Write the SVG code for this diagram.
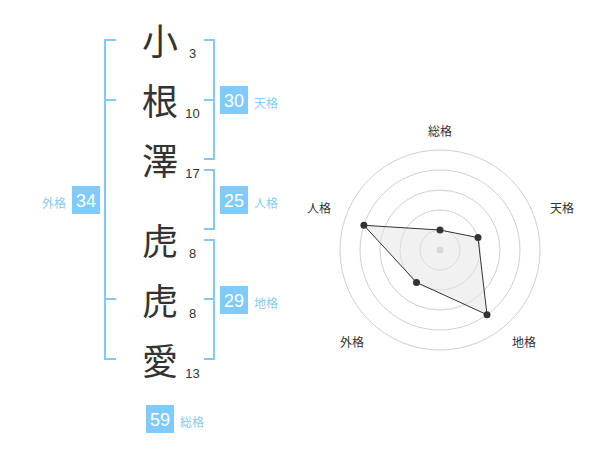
<svg xmlns="http://www.w3.org/2000/svg" width="600" height="470" viewBox="0 0 600 470">
<style>
.kanji{font-family:"Noto Sans CJK JP","Noto Sans CJK SC",sans-serif;font-size:36px;fill:#333;text-anchor:middle}
.num{font-family:"Liberation Sans",Arial,sans-serif;font-size:13px;fill:#333;text-anchor:middle}
.br{fill:none;stroke:#84c9f5;stroke-width:2}
.box{fill:#80cbfb}
.bn{font-family:"Liberation Sans",Arial,sans-serif;font-size:18px;fill:#fff;text-anchor:middle}
.lb{font-family:"Noto Sans CJK JP","Noto Sans CJK SC",sans-serif;font-size:12px;fill:#88cbf3}
.ring{fill:none;stroke:#cfcfcf;stroke-width:1}
.rl{font-family:"Noto Sans CJK JP","Noto Sans CJK SC",sans-serif;font-size:12px;fill:#333;text-anchor:middle}
.pt{fill:#333}
</style>
<g id="name">
<text class="kanji" x="160" y="55">小</text>
<text class="kanji" x="160" y="115">根</text>
<text class="kanji" x="160" y="175">澤</text>
<text class="kanji" x="160" y="255">虎</text>
<text class="kanji" x="160" y="315">虎</text>
<text class="kanji" x="160" y="375">愛</text>
<text class="num" x="192.5" y="58">3</text>
<text class="num" x="192.5" y="118">10</text>
<text class="num" x="192.5" y="178">17</text>
<text class="num" x="192.5" y="258">8</text>
<text class="num" x="192.5" y="318">8</text>
<text class="num" x="192.5" y="378">13</text>
</g>
<g id="brackets">
<path class="br" d="M116,40 H105 V359 H116 M105,100 H116 M105,299 H116"/>
<path class="br" d="M204,40 H214 V159 H204 M204,100 H214"/>
<path class="br" d="M204,170 H214 V229 H204"/>
<path class="br" d="M204,240 H214 V359 H204 M204,299 H214"/>
</g>
<g id="tenkaku">
<rect class="box" x="220" y="86" width="28" height="28"/>
<text class="bn" x="234" y="107">30</text>
<text class="lb" x="254" y="108">天格</text>
</g>
<g id="jinkaku">
<rect class="box" x="220" y="186" width="28" height="28"/>
<text class="bn" x="234" y="207">25</text>
<text class="lb" x="254" y="208">人格</text>
</g>
<g id="chikaku">
<rect class="box" x="220" y="286" width="28" height="28"/>
<text class="bn" x="234" y="307">29</text>
<text class="lb" x="254" y="308">地格</text>
</g>
<g id="gaikaku">
<rect class="box" x="72" y="186" width="28" height="28"/>
<text class="bn" x="86" y="207">34</text>
<text class="lb" x="42" y="208">外格</text>
</g>
<g id="soukaku">
<rect class="box" x="146" y="405" width="28" height="28"/>
<text class="bn" x="160" y="426">59</text>
<text class="lb" x="180" y="427">総格</text>
</g>
<g id="radar">
<circle class="ring" cx="440" cy="250" r="20"/>
<circle class="ring" cx="440" cy="250" r="40"/>
<circle class="ring" cx="440" cy="250" r="60"/>
<circle class="ring" cx="440" cy="250" r="80"/>
<circle class="ring" cx="440" cy="250" r="100"/>
<circle cx="440" cy="250" r="3.5" fill="#c8c8c8"/>
<polygon points="440,230 478,237.6 487,314.7 416.5,282.4 363.9,225.3" fill="#e6e6e6" fill-opacity="0.55" stroke="#333" stroke-width="1"/>
<circle class="pt" cx="440" cy="230" r="3.5"/>
<circle class="pt" cx="478" cy="237.6" r="3.5"/>
<circle class="pt" cx="487" cy="314.7" r="3.5"/>
<circle class="pt" cx="416.5" cy="282.4" r="3.5"/>
<circle class="pt" cx="363.9" cy="225.3" r="3.5"/>
<text class="rl" x="440" y="136">総格</text>
<text class="rl" x="562" y="213">天格</text>
<text class="rl" x="524" y="347">地格</text>
<text class="rl" x="352" y="347">外格</text>
<text class="rl" x="319" y="213">人格</text>
</g>
</svg>
